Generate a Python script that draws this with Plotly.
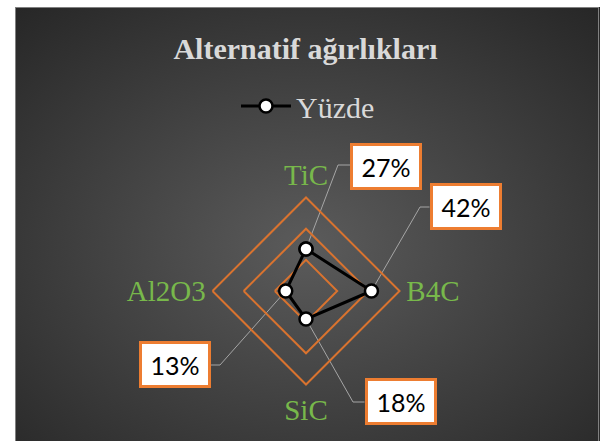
import base64
import math
import plotly.graph_objects as go

# ---- data ----
categories = ["TiC", "B4C", "SiC", "Al2O3"]
values = [0.27, 0.42, 0.18, 0.13]
label_texts = ["27%", "42%", "18%", "13%"]
series_name = "Yüzde"
title_text = "Alternatif ağırlıkları"

# ---- geometry / style ----
W, H = 600, 441
CX, CY = 306, 291          # polar centre in px (from top-left)
RPX = 93.5                 # px radius of outer ring
RMAX = 0.6
ORANGE = "#D9732F"
GREEN = "#78B84B"
TXT = "#D9D9D9"

# label boxes: centre (px) and elbow of leader line (px), by category
label_pos = {"TiC": (386, 166.5), "B4C": (465.5, 206.5), "SiC": (400.5, 401), "Al2O3": (174.5, 364.5)}
elbow_pos = {"TiC": (338, 165), "B4C": (420, 207), "SiC": (353, 402), "Al2O3": (220, 365)}
box_half_w = 36
angles = {"TiC": 90, "B4C": 0, "SiC": -90, "Al2O3": 180}

def px_to_paper(x, y):
    return x / W, 1 - y / H

theta = categories + [categories[0]]
r = values + [values[0]]

fig = go.Figure()
fig.add_trace(go.Scatterpolar(
    r=r, theta=theta, mode="lines+markers", name=series_name,
    line=dict(color="black", width=3),
    marker=dict(symbol="circle", size=13, color="white", line=dict(color="black", width=2.5)),
    showlegend=True, hoverinfo="skip",
))

# background gradient
svg = ("<svg xmlns='http://www.w3.org/2000/svg' width='585' height='434' viewBox='0 0 585 434' preserveAspectRatio='none'>"
       "<defs><radialGradient id='g' cx='0.5' cy='0.55' r='0.75'>"
       "<stop offset='0' stop-color='#5b5b5b'/><stop offset='1' stop-color='#262626'/>"
       "</radialGradient></defs>"
       "<rect x='0' y='0' width='585' height='434' fill='url(#g)'/>"
       "<rect x='0.5' y='0.5' width='583' height='440' fill='none' stroke='#808080' stroke-width='1'/>"
       "</svg>")
uri = "data:image/svg+xml;base64," + base64.b64encode(svg.encode()).decode()

shapes = []
annotations = []
for cat, val, txt in zip(categories, values, label_texts):
    a = math.radians(angles[cat])
    px = CX + val / RMAX * RPX * math.cos(a)
    py = CY - val / RMAX * RPX * math.sin(a)
    ex, ey = elbow_pos[cat]
    lx, ly = label_pos[cat]
    bx = lx - box_half_w if ex < lx else lx + box_half_w
    p0 = px_to_paper(px, py); p1 = px_to_paper(ex, ey); p2 = px_to_paper(bx, ey)
    shapes.append(dict(type="path", xref="paper", yref="paper", layer="below",
                       path=f"M {p0[0]},{p0[1]} L {p1[0]},{p1[1]} L {p2[0]},{p2[1]}",
                       line=dict(color="#A6A6A6", width=1)))
    ax, ay = px_to_paper(lx, ly)
    annotations.append(dict(x=ax, y=ay, xref="paper", yref="paper", text=txt, showarrow=False,
                            xanchor="center", yanchor="middle",
                            font=dict(family="Lato", size=25, color="black"),
                            bgcolor="white", bordercolor="#ED7D31", borderwidth=3, borderpad=1,
                            width=64, height=39))

fig.update_layout(
    width=W, height=H,
    margin=dict(l=0, r=0, t=0, b=0),
    paper_bgcolor="white", plot_bgcolor="rgba(0,0,0,0)",
    images=[dict(source=uri, xref="paper", yref="paper", x=15 / W, y=1 - 7 / H,
                 sizex=(W - 15) / W, sizey=(H - 7) / H, xanchor="left", yanchor="top",
                 sizing="stretch", layer="below")],
    title=dict(text=f"<b>{title_text}</b>", x=305.5 / W, xanchor="center",
               y=1 - 48 / H, yanchor="middle", yref="container",
               font=dict(family="Liberation Serif", size=30, color=TXT)),
    showlegend=True,
    legend=dict(orientation="h", x=236 / W, xanchor="left", y=1 - 106 / H, yanchor="middle",
                bgcolor="rgba(0,0,0,0)", font=dict(family="Liberation Serif", size=30, color=TXT),
                itemwidth=50),
    polar=dict(
        domain=dict(x=[(CX - RPX) / W, (CX + RPX) / W], y=[(H - CY - RPX) / H, (H - CY + RPX) / H]),
        bgcolor="rgba(0,0,0,0)",
        gridshape="linear",
        radialaxis=dict(range=[0, RMAX], tickvals=[0.2, 0.4], showticklabels=False, ticks="",
                        showline=False, gridcolor=ORANGE, gridwidth=2),
        angularaxis=dict(rotation=90, direction="clockwise", showgrid=False, ticks="",
                         showline=True, linecolor=ORANGE, linewidth=2,
                         tickfont=dict(family="Liberation Serif", size=29, color=GREEN)),
    ),
    shapes=shapes,
    annotations=annotations,
)

fig.write_html("out.html", config={"displayModeBar": False},
               post_script="document.body.style.margin='0';")
